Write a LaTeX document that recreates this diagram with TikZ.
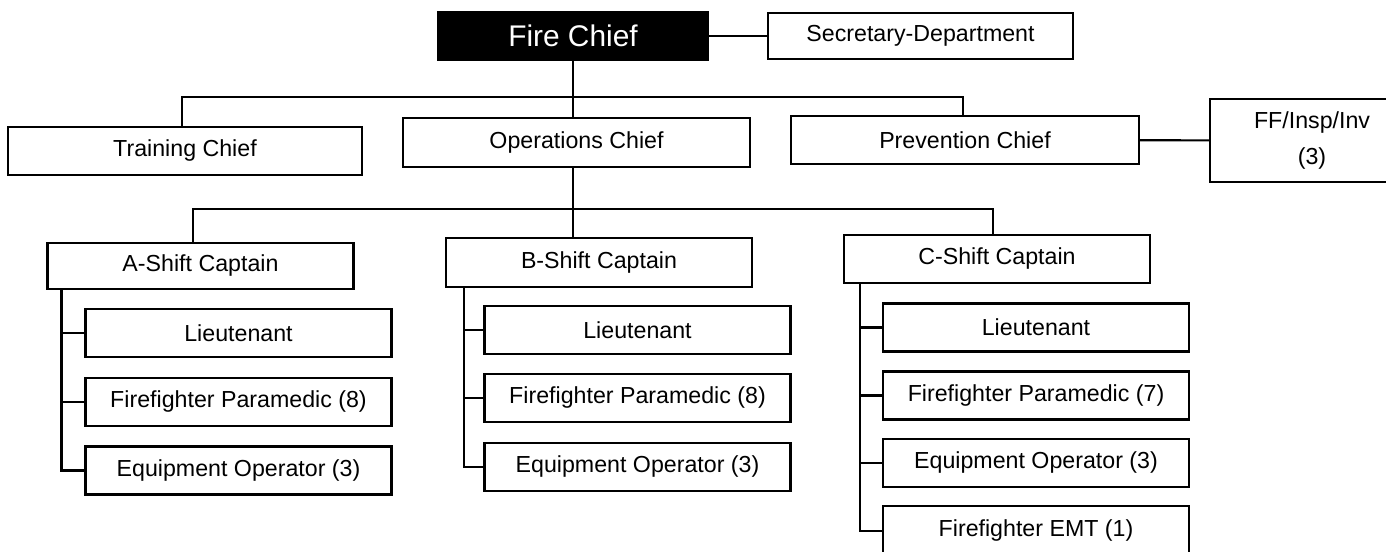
\documentclass[tikz,border=0pt]{standalone}
\usepackage{fontspec}
\setmainfont{Liberation Sans}
\usepackage{tikz}
\usetikzlibrary{calc}
\newcommand{\boxline}{1.2pt}
\newcommand{\rankw}{6.12cm}
\newcommand{\rankh}{0.96cm}
\tikzset{post/.style={draw, line width=\boxline, fill=white, inner sep=0pt, align=center,
    minimum width=\rankw, minimum height=\rankh, font=\fontsize{13.2}{15.5}\selectfont}}

\begin{document}
\begin{tikzpicture}[line width=\boxline]
\useasboundingbox (0,0) rectangle (27.72,-11.04);
%top rank
\node[post, fill=black, text=white, minimum width=5.4cm, font=\fontsize{17}{20}\selectfont] (fire) at (11.46, -0.72) {Fire Chief};
\node[post, minimum width=6.1cm, minimum height=0.92cm] (sec) at (18.41, -0.72) {Secretary-Department};
\node[post, minimum width=7.08cm] (train) at (3.70, -3.02) {Training Chief};
\node[post, minimum width=6.94cm, minimum height=0.98cm] (ops) at (11.53, -2.85) {Operations Chief};
\node[post, minimum width=6.96cm] (prev) at (19.30, -2.80) {Prevention Chief};
\node[post, minimum width=4.08cm, minimum height=1.66cm, font=\fontsize{13.2}{20}\selectfont] (ffinsp) at (26.24, -2.81) {FF/Insp/Inv\\(3)};
\coordinate (topbus) at (11.46, -1.94);
\coordinate (lowbus) at (11.46, -4.18);
%captains
\node[post, minimum height=0.92cm] (acap) at (4.01, -5.32) {A-Shift Captain};
\node[post, minimum height=0.98cm] (bcap) at (11.98, -5.25) {B-Shift Captain};
\node[post] (ccap) at (19.94, -5.18) {C-Shift Captain};
%A shift
\node[post] (alieu) at (4.77, -6.66) {Lieutenant};
\node[post] (amedic) at (4.77, -8.04) {Firefighter Paramedic (8)};
\node[post] (aequip) at (4.77, -9.41) {Equipment Operator (3)};
%B shift
\node[post] (blieu) at (12.75, -6.60) {Lieutenant};
\node[post] (bmedic) at (12.75, -7.96) {Firefighter Paramedic (8)};
\node[post] (bequip) at (12.75, -9.34) {Equipment Operator (3)};
%C shift
\node[post] (clieu) at (20.72, -6.55) {Lieutenant};
\node[post] (cmedic) at (20.72, -7.91) {Firefighter Paramedic (7)};
\node[post] (cequip) at (20.72, -9.26) {Equipment Operator (3)};
\node[post, minimum height=1.0cm] (cemt) at (20.72, -10.62) {Firefighter EMT (1)};
%lines
\draw (fire) -- (sec);
\draw (prev) -- (ffinsp);
\draw (fire.south) -- (fire.south |- ops.north);
\draw ([xshift=-0.06cm]train.north) |- (topbus) -| ([xshift=-0.04cm]prev.north);
\draw (fire.south |- ops.south) -- (fire.south |- bcap.north);
\draw ([xshift=-0.15cm]acap.north) |- (lowbus) -| ([xshift=-0.08cm]ccap.north);
\draw ([xshift=0.3cm]acap.south west) |- (alieu.west);
\draw ([xshift=0.3cm]acap.south west) |- (amedic.west);
\draw ([xshift=0.3cm]acap.south west) |- (aequip.west);
\draw ([xshift=0.38cm]bcap.south west) |- (blieu.west);
\draw ([xshift=0.38cm]bcap.south west) |- (bmedic.west);
\draw ([xshift=0.38cm]bcap.south west) |- (bequip.west);
\draw ([xshift=0.34cm]ccap.south west) |- (clieu.west);
\draw ([xshift=0.34cm]ccap.south west) |- (cmedic.west);
\draw ([xshift=0.34cm]ccap.south west) |- (cequip.west);
\draw ([xshift=0.34cm]ccap.south west) |- (cemt.west);
\end{tikzpicture}
\end{document}
